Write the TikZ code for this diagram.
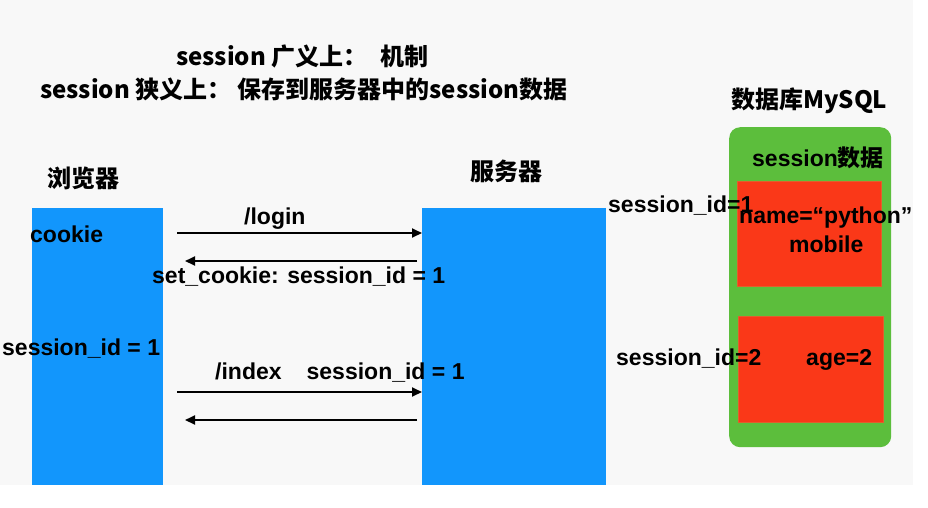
\documentclass[tikz,border=0pt]{standalone}
\usepackage{fontspec}
\setmainfont{Liberation Sans}
\newfontfamily\cjk{Noto Sans CJK SC}
\usetikzlibrary{arrows.meta}
\definecolor{bg}{RGB}{248,248,248}
\definecolor{blu}{RGB}{18,150,252}
\definecolor{grn}{RGB}{92,190,60}
\definecolor{rd}{RGB}{250,56,24}
\definecolor{rdedge}{RGB}{225,95,45}
\begin{document}
\begin{tikzpicture}[x=1pt,y=-1pt,
  lbl/.style={font=\fontsize{23}{27}\selectfont\bfseries, inner sep=0pt, anchor=base west},
  cjklbl/.style={font=\fontsize{24}{28}\selectfont\cjk\bfseries, inner sep=0pt, anchor=west},
  bluebox/.style={fill=blu, draw=none, inner sep=0pt, anchor=north west},
  redbox/.style={fill=rd, draw=rdedge, line width=0.6pt, inner sep=0pt, anchor=north west},
  arr/.style={line width=1.8pt, -{Triangle[length=10pt,width=9pt]}}]
\useasboundingbox (0,0) rectangle (928,507);
\fill[white] (0,0) rectangle (928,507);
\fill[bg] (0,0) rectangle (913,485);

% boxes
\node[bluebox, minimum width=131pt, minimum height=277pt] (browser) at (32,208) {};
\node[bluebox, minimum width=184pt, minimum height=277pt] (server) at (422,208) {};
\node[fill=grn, rounded corners=11pt, inner sep=0pt, anchor=north west,
      minimum width=162pt, minimum height=320pt] (db) at (729,127) {};
\node[redbox, minimum width=144pt, minimum height=105pt] (rec1) at (737,181) {};
\node[redbox, minimum width=145pt, minimum height=106pt] (rec2) at (738,316) {};

% titles
\node[cjklbl] (t1) at (176,56) {session 广义上：\hspace{13pt}机制};
\node[cjklbl] (t2) at (40,89) {session 狭义上：\hspace{6pt}保存到服务器中的session数据};
\node[cjklbl] (dbname) at (731,101) {数据库MySQL};
\node[cjklbl] (brname) at (47,178) {浏览器};
\node[cjklbl] (svname) at (470,171) {服务器};

% labels
\node[lbl] (cookie) at (30,242) {cookie};
\node[lbl] (login) at (244,224) {/login};
\node[lbl] (setck) at (152,283) {set\_cookie: session\_id = 1};
\node[lbl] (sid) at (2,355) {session\_id = 1};
\node[lbl] (index) at (215,379) {/index\hspace{25pt}session\_id = 1};
\node[lbl] (sid1) at (608,212) {session\_id=1};
\node[lbl] (sdata) at (752,166) {session{\cjk 数据}};
\node[lbl] (name) at (739,223) {name=“python”};
\node[lbl] (mobile) at (789,252) {mobile};
\node[lbl] (sid2) at (616,365) {session\_id=2};
\node[lbl] (age) at (806,365) {age=2};

% arrows
\coordinate (a1) at (177,233);
\coordinate (b1) at (417,261);
\coordinate (b1e) at (185,261);
\coordinate (a2) at (177,392);
\coordinate (b2) at (417,420);
\coordinate (b2e) at (185,420);
\draw[arr] (a1) -- (server.west |- a1);
\draw[arr] (b1) -- (b1e);
\draw[arr] (a2) -- (server.west |- a2);
\draw[arr] (b2) -- (b2e);
\end{tikzpicture}
\end{document}
